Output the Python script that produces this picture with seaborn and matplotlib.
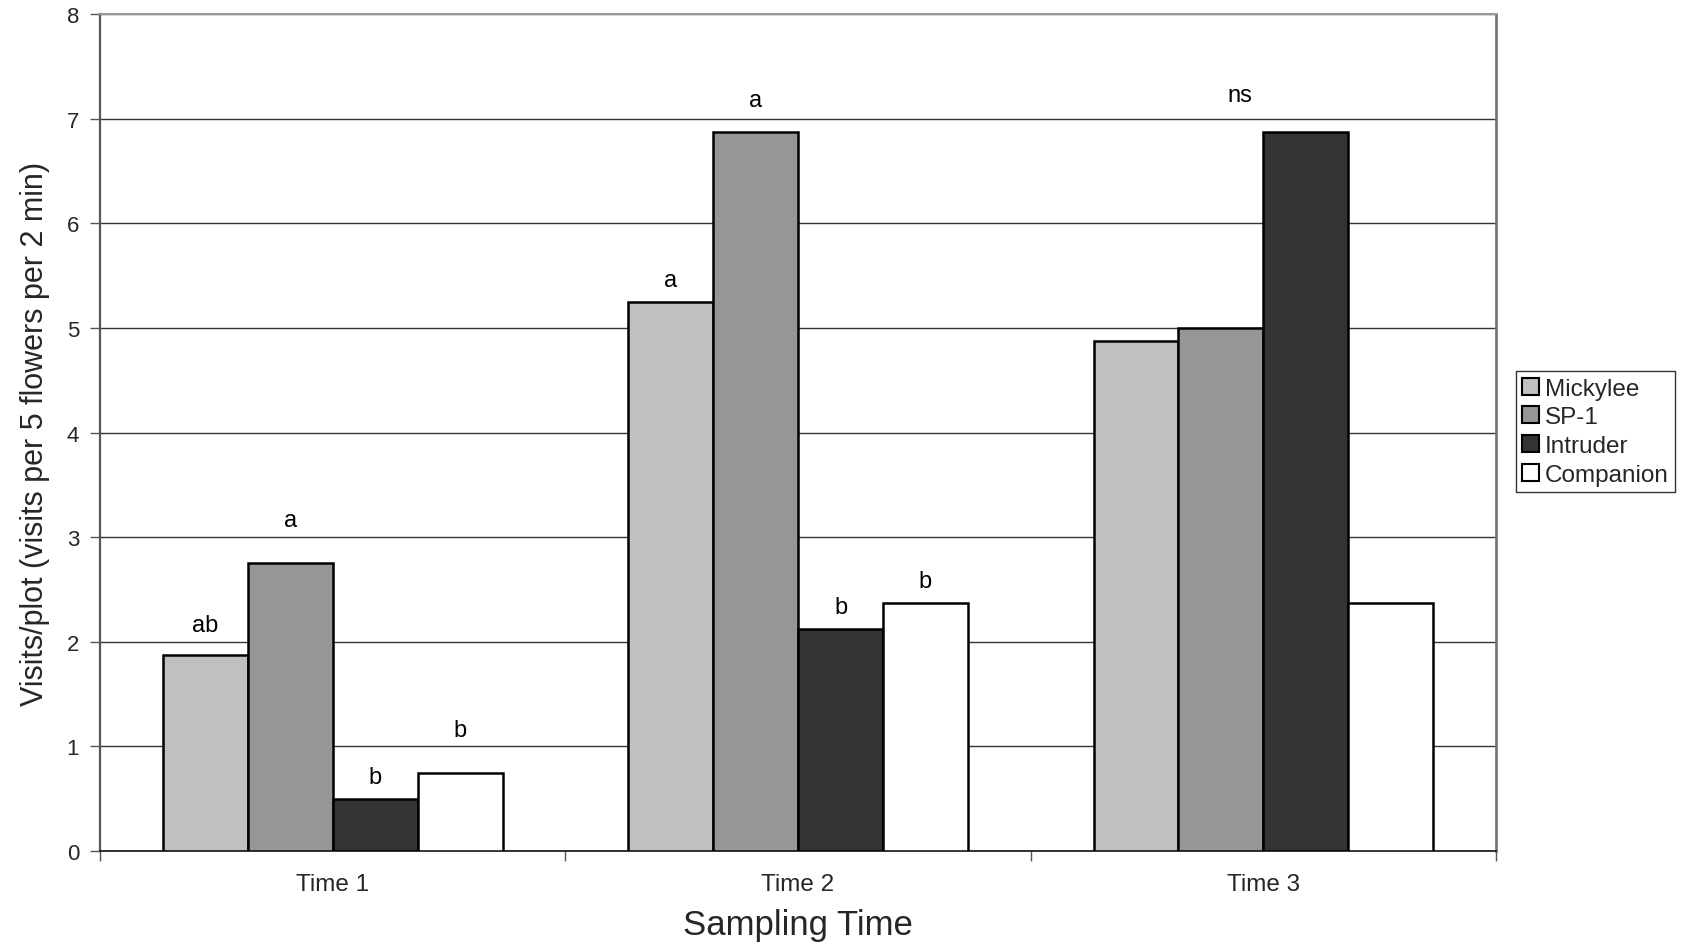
import matplotlib
matplotlib.use("Agg")
import matplotlib.pyplot as plt
import seaborn as sns
import pandas as pd
from matplotlib.patches import Patch
from matplotlib.ticker import FixedLocator

# Data
times = ["Time 1", "Time 2", "Time 3"]
varieties = ["Mickylee", "SP-1", "Intruder", "Companion"]
mickylee = [1.875, 5.25, 4.875]
sp1 = [2.75, 6.875, 5.0]
intruder = [0.5, 2.125, 6.875]
companion = [0.75, 2.375, 2.375]
colors = ["#c0c0c0", "#969696", "#333333", "#ffffff"]

# Significance letters: (time index, variety index or None for group, text, y position)
letters = [
    (0, 0, "ab", 2.16), (0, 1, "a", 3.16), (0, 2, "b", 0.71), (0, 3, "b", 1.16),
    (1, 0, "a", 5.46), (1, 1, "a", 7.18), (1, 2, "b", 2.33), (1, 3, "b", 2.58),
    (2, None, "ns", 7.23),
]

series = {"Mickylee": mickylee, "SP-1": sp1, "Intruder": intruder, "Companion": companion}
df = pd.DataFrame([
    {"time": t, "variety": v, "visits": series[v][i]}
    for i, t in enumerate(times) for v in varieties
])

sns.set_style("white")
plt.rcParams["font.family"] = ["Liberation Sans", "DejaVu Sans"]

fig = plt.figure(figsize=(16.84, 9.45), dpi=100)
ax = fig.add_axes([0.0594, 0.0984, 0.8290, 0.8857])

bar_width = 0.73
sns.barplot(data=df, x="time", y="visits", hue="variety", order=times,
            hue_order=varieties, palette=colors, saturation=1, width=bar_width,
            edgecolor="black", linewidth=1.8, ax=ax, legend=False, zorder=3)

ax.set_xlim(-0.5, 2.5)
ax.set_ylim(0, 8)
ax.set_yticks(range(0, 9))
ax.yaxis.grid(True, color="#333333", linewidth=1.0, zorder=0)
ax.set_axisbelow(True)

# Category boundary ticks on the x axis
ax.set_xticks(range(len(times)))
ax.set_xticklabels(times, fontsize=17.5)
ax.xaxis.set_minor_locator(FixedLocator([-0.5, 0.5, 1.5, 2.5]))
ax.tick_params(axis="x", which="major", length=0, pad=16)
ax.tick_params(axis="x", which="minor", length=7, width=1, color="#555555", direction="out")
ax.tick_params(axis="y", length=7, width=1, color="#555555", direction="out", labelsize=16, pad=8)
ax.tick_params(bottom=True, left=True, which="both")

for side, col, lw in [("left", "#555555", 1.6), ("bottom", "#111111", 1.2),
                      ("right", "#777777", 2.0), ("top", "#999999", 1.5)]:
    ax.spines[side].set_visible(True)
    ax.spines[side].set_color(col)
    ax.spines[side].set_linewidth(lw)

ax.set_xlabel("Sampling Time", fontsize=25, labelpad=9)
ax.set_ylabel("Visits/plot (visits per 5 flowers per 2 min)", fontsize=22, labelpad=12)

# Letters above bars
slot = bar_width / len(varieties)
for ti, vi, txt, ypos in letters:
    if vi is None:
        xpos = ti - 0.05
    else:
        xpos = ti - bar_width / 2 + slot * (vi + 0.5)
    ax.text(xpos, ypos, txt, ha="center", va="center", fontsize=17, color="black")

handles = [Patch(facecolor=c, edgecolor="black", linewidth=1.5) for c in colors]
leg = fig.legend(handles, varieties, loc="center left", bbox_to_anchor=(0.9, 0.542),
                 fontsize=17.5, frameon=True, fancybox=False, handlelength=0.7,
                 handleheight=0.7, handletextpad=0.25, borderpad=0.25, labelspacing=0.28,
                 borderaxespad=0)
leg.get_frame().set_edgecolor("black")
leg.get_frame().set_linewidth(1.0)

fig.savefig("out.png", dpi=100, facecolor="white")
